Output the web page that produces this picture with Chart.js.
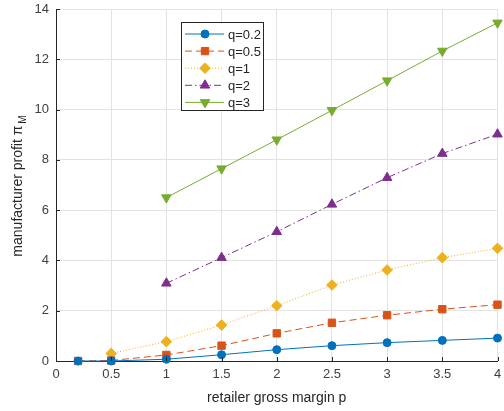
<!DOCTYPE html>
<html>
<head>
<meta charset="utf-8">
<script src="https://cdn.jsdelivr.net/npm/chart.js@4.4.1/dist/chart.umd.min.js"></script>
<style>
  html, body { margin: 0; padding: 0; background: #fff; }
  #wrap { width: 504px; height: 411px; position: relative; }
</style>
</head>
<body>
<div id="wrap"><canvas id="chart" width="504" height="411"></canvas></div>
<script>
// retailer gross margin p (x positions per series)
var pAll = [0.2, 0.5, 1, 1.5, 2, 2.5, 3, 3.5, 4];
var pFromHalf = [0.5, 1, 1.5, 2, 2.5, 3, 3.5, 4];
var pFromOne = [1, 1.5, 2, 2.5, 3, 3.5, 4];

// manufacturer profit for each q
var profitQ02 = [0, 0, 0.07, 0.25, 0.45, 0.61, 0.73, 0.82, 0.91];
var profitQ05 = [0, 0.02, 0.24, 0.61, 1.1, 1.52, 1.82, 2.06, 2.24];
var profitQ1 = [0.3, 0.77, 1.43, 2.2, 3.02, 3.62, 4.11, 4.48];
var profitQ2 = [3.09, 4.11, 5.14, 6.23, 7.29, 8.25, 9.02];
var profitQ3 = [6.5, 7.65, 8.8, 9.97, 11.15, 12.33, 13.45];

var seriesLabels = ['q=0.2', 'q=0.5', 'q=1', 'q=2', 'q=3'];
var xLabel = 'retailer gross margin p';
var yLabel = 'manufacturer profit \u03c0';
var yLabelSub = 'M';

var FONT = '"Liberation Sans", Arial, Helvetica, sans-serif';
var AXIS = '#262626';
var TICKTEXT = '#404040';
var GRID = '#e3e3e3';

function pairs(xs, ys) {
  return xs.map(function(x, i) { return { x: x, y: ys[i] }; });
}

function series(label, xs, ys, color, dash, style, r, rot) {
  return {
    label: label, data: pairs(xs, ys),
    borderColor: color, backgroundColor: color, borderWidth: 1, borderDash: dash,
    pointStyle: style, pointRadius: r, pointHoverRadius: r, pointRotation: rot || 0,
    pointBackgroundColor: color, pointBorderColor: color, pointBorderWidth: 1,
    tension: 0, fill: false, clip: false
  };
}

// legend, axis titles and inward tick marks
var extras = {
  id: 'extras',
  afterDraw: function(chart) {
    var ctx = chart.ctx, area = chart.chartArea;
    var xs = chart.scales.x, ys = chart.scales.y;
    ctx.save();

    // inward ticks
    ctx.strokeStyle = AXIS; ctx.lineWidth = 1;
    ctx.beginPath();
    xs.ticks.forEach(function(t) {
      var px = Math.round(xs.getPixelForValue(t.value)) + 0.5;
      ctx.moveTo(px, area.bottom); ctx.lineTo(px, area.bottom - 4);
    });
    ys.ticks.forEach(function(t) {
      var py = Math.round(ys.getPixelForValue(t.value)) + 0.5;
      ctx.moveTo(area.left, py); ctx.lineTo(area.left + 4, py);
    });
    ctx.stroke();

    // x title
    ctx.fillStyle = AXIS;
    ctx.font = '14px ' + FONT;
    ctx.textAlign = 'center'; ctx.textBaseline = 'alphabetic';
    ctx.fillText(xLabel, (area.left + area.right) / 2, 402);

    // y title with subscript
    ctx.save();
    ctx.translate(22, (area.top + area.bottom) / 2);
    ctx.rotate(-Math.PI / 2);
    ctx.font = '14px ' + FONT;
    var w1 = ctx.measureText(yLabel + ' ').width;
    ctx.font = '10px ' + FONT;
    var w2 = ctx.measureText(yLabelSub).width;
    var start = -(w1 + w2) / 2;
    ctx.textAlign = 'left';
    ctx.font = '14px ' + FONT;
    ctx.fillText(yLabel, start, 0);
    ctx.font = '10px ' + FONT;
    ctx.fillText(yLabelSub, start + w1 - 2, 4);
    ctx.restore();

    // legend
    var bx = 181.5, by = 22.5, bw = 82, bh = 88;
    ctx.fillStyle = '#fff';
    ctx.fillRect(bx, by, bw, bh);
    ctx.strokeStyle = AXIS; ctx.lineWidth = 1;
    ctx.strokeRect(bx, by, bw, bh);
    chart.data.datasets.forEach(function(ds, i) {
      var yy = 34 + i * 17.1;
      ctx.save();
      ctx.strokeStyle = ds.borderColor; ctx.lineWidth = 1;
      ctx.setLineDash(ds.borderDash || []);
      ctx.beginPath(); ctx.moveTo(185, yy); ctx.lineTo(224, yy); ctx.stroke();
      ctx.setLineDash([]);
      ctx.fillStyle = ds.pointBackgroundColor;
      Chart.helpers.drawPoint(ctx, {
        pointStyle: ds.pointStyle, rotation: ds.pointRotation, radius: ds.pointRadius, borderWidth: 1
      }, 205, yy);
      ctx.restore();
      ctx.fillStyle = AXIS;
      ctx.font = '13px ' + FONT;
      ctx.textAlign = 'left'; ctx.textBaseline = 'middle';
      ctx.fillText(ds.label, 228, yy + 1);
    });
    ctx.restore();
  }
};

new Chart(document.getElementById('chart'), {
  type: 'line',
  data: {
    datasets: [
      series(seriesLabels[0], pAll, profitQ02, '#0072BD', [], 'circle', 4),
      series(seriesLabels[1], pAll, profitQ05, '#D95319', [7, 4], 'rect', 5.2),
      series(seriesLabels[2], pFromHalf, profitQ1, '#EDB120', [1, 2], 'rectRot', 5.3),
      series(seriesLabels[3], pFromOne, profitQ2, '#7E2F8E', [7, 3, 1.5, 3], 'triangle', 5.5),
      series(seriesLabels[4], pFromOne, profitQ3, '#77AC30', [], 'triangle', 5.5, 180)
    ]
  },
  options: {
    responsive: false,
    animation: false,
    events: [],
    layout: { padding: { top: 9, right: 0, left: 0, bottom: 0 } },
    plugins: { legend: { display: false }, tooltip: { enabled: false } },
    scales: {
      x: {
        type: 'linear', min: 0, max: 4,
        ticks: {
          stepSize: 0.5, autoSkip: false, color: TICKTEXT, font: { family: FONT, size: 13 }, padding: 6, maxRotation: 0,
          callback: function(v) { return String(v); }
        },
        grid: { color: GRID, drawTicks: false },
        border: { color: AXIS, width: 1 },
        afterFit: function(s) { s.height = 50; s.paddingRight = 0; s.paddingLeft = 0; }
      },
      y: {
        min: 0, max: 14,
        ticks: {
          stepSize: 2, autoSkip: false, color: TICKTEXT, font: { family: FONT, size: 13 }, padding: 7,
          callback: function(v) { return String(v); }
        },
        grid: { color: GRID, drawTicks: false },
        border: { color: AXIS, width: 1 },
        afterFit: function(s) { s.width = 56; s.paddingTop = 0; s.paddingBottom = 0; }
      }
    }
  },
  plugins: [extras]
});
</script>
</body>
</html>
